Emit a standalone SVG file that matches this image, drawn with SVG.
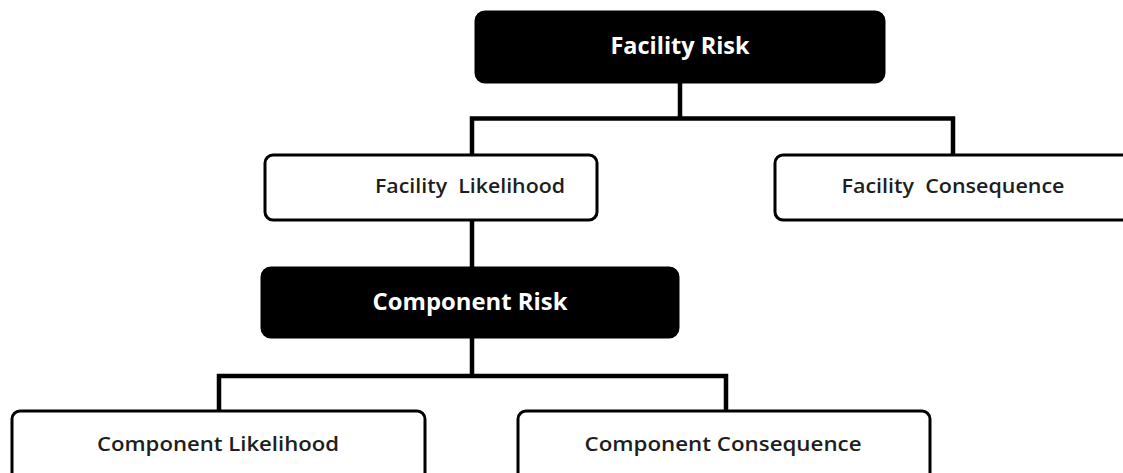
<svg xmlns="http://www.w3.org/2000/svg" width="1123" height="473" viewBox="0 0 1123 473">
  <style>
    .dark { fill: #000; stroke: #000; stroke-width: 3; }
    .light { fill: #fff; stroke: #000; stroke-width: 3; }
    .wire { fill: none; stroke: #000; stroke-width: 4.5; stroke-linejoin: miter; }
    .t { font-family: "Open Sans", "Liberation Sans", sans-serif; text-anchor: middle; white-space: pre; }
    .td { fill: #fff; font-size: 23px; font-weight: bold; }
    .tl { fill: #1e1e1e; font-size: 20px; font-weight: 600; }
  </style>
  <rect width="1123" height="473" fill="#fff"/>

  <g id="connectors">
    <path class="wire" d="M680 82 V118.5 M472 155 V118.5 H953 V155"/>
    <path class="wire" d="M472 220 V268"/>
    <path class="wire" d="M472 337 V376 M219 411 V376 H726 V411"/>
  </g>

  <g id="facility-risk">
    <rect class="dark" x="476" y="12" width="408" height="70" rx="9"/>
    <text class="t td" x="680" y="54" textLength="139" lengthAdjust="spacingAndGlyphs">Facility Risk</text>
  </g>

  <g id="facility-likelihood">
    <rect class="light" x="265" y="155" width="332" height="65" rx="8"/>
    <text class="t tl" x="470" y="193" textLength="190" lengthAdjust="spacingAndGlyphs" xml:space="preserve">Facility  Likelihood</text>
  </g>

  <g id="facility-consequence">
    <rect class="light" x="775" y="155" width="360" height="65" rx="8"/>
    <text class="t tl" x="953" y="193" textLength="223" lengthAdjust="spacingAndGlyphs" xml:space="preserve">Facility  Consequence</text>
  </g>

  <g id="component-risk">
    <rect class="dark" x="262" y="268" width="416" height="69" rx="9"/>
    <text class="t td" x="470" y="310" textLength="195" lengthAdjust="spacingAndGlyphs">Component Risk</text>
  </g>

  <g id="component-likelihood">
    <rect class="light" x="12" y="411" width="413" height="75" rx="8"/>
    <text class="t tl" x="218" y="451" textLength="242" lengthAdjust="spacingAndGlyphs">Component Likelihood</text>
  </g>

  <g id="component-consequence">
    <rect class="light" x="518" y="411" width="412" height="75" rx="8"/>
    <text class="t tl" x="723" y="451" textLength="277" lengthAdjust="spacingAndGlyphs">Component Consequence</text>
  </g>
</svg>
